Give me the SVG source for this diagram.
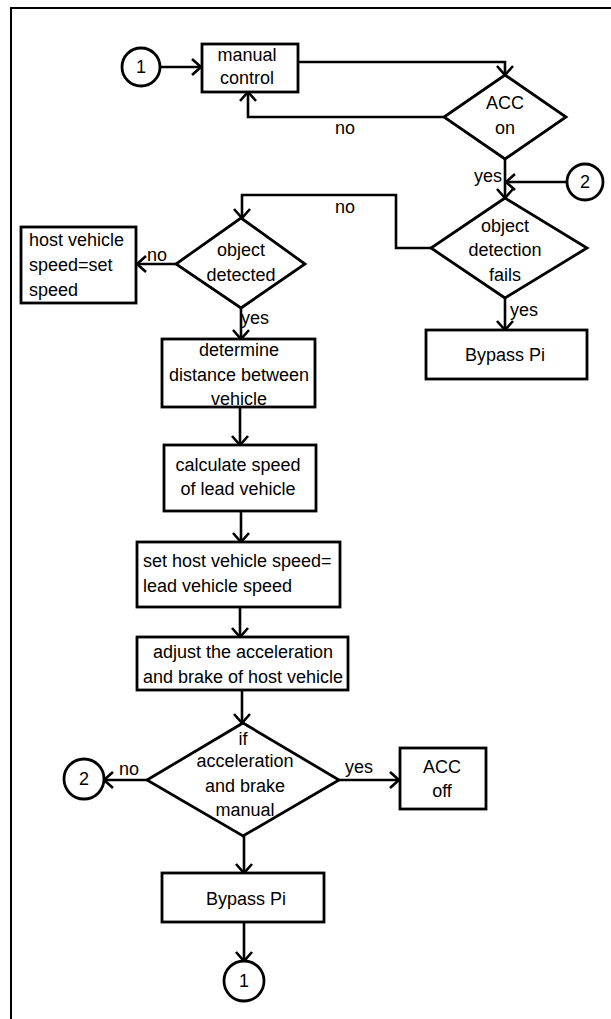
<svg xmlns="http://www.w3.org/2000/svg" width="611" height="1019" viewBox="0 0 611 1019">
<style>
.shape{fill:#fff;stroke:#000;stroke-width:2.8}
.t{font-family:"Liberation Sans",Arial,sans-serif;font-size:18px;fill:#000;text-anchor:middle}
.tl{text-anchor:start}
.c{fill:none;stroke:#000;stroke-width:2.6}
</style>
<defs>
<marker id="a" markerUnits="userSpaceOnUse" viewBox="-11 -10 13 20" refX="0" refY="0" markerWidth="13" markerHeight="20" orient="auto">
<path d="M-9,-8 L0,0 L-9,8" fill="none" stroke="#000" stroke-width="2.6"/>
</marker>
</defs>
<rect width="611" height="1019" fill="#fff"/>
<path d="M11,1019 V8 H611" fill="none" stroke="#000" stroke-width="2"/>
<g id="connectors" class="c" marker-end="url(#a)">
<path d="M160,67 H201"/>
<path d="M298,62 H505 V75"/>
<path d="M444,117 H248 V92"/>
<path d="M505,159 V198"/>
<path d="M566,182 H506"/>
<path d="M431,248 H396 V195 H242 V218"/>
<path d="M505,298 V330"/>
<path d="M176,264 H137"/>
<path d="M241,308 V339"/>
<path d="M240,407 V445"/>
<path d="M241,511 V542"/>
<path d="M240,607 V637"/>
<path d="M242,690 V723"/>
<path d="M147,780 H104"/>
<path d="M339,780 H399"/>
<path d="M244,836 V873"/>
<path d="M244,922 V961"/>
</g>
<g id="labels" class="t">
<text x="345" y="134">no</text>
<text x="488" y="182">yes</text>
<text x="345" y="213">no</text>
<text x="524" y="316">yes</text>
<text x="157" y="261">no</text>
<text x="255" y="324">yes</text>
<text x="129" y="775">no</text>
<text x="359" y="773">yes</text>
</g>
<g id="c1top"><circle class="shape" cx="141" cy="67" r="19"/><text class="t" x="141" y="73">1</text></g>
<g id="manual"><rect class="shape" x="202" y="44" width="96" height="48"/><text class="t" x="247" y="61">manual</text><text class="t" x="247" y="84">control</text></g>
<g id="accon"><polygon class="shape" points="505,75 566,117 505,159 444,117"/><text class="t" x="505" y="109">ACC</text><text class="t" x="505" y="134">on</text></g>
<g id="c2right"><circle class="shape" cx="585" cy="182" r="18"/><text class="t" x="585" y="188">2</text></g>
<g id="odf"><polygon class="shape" points="505,198 587,248 505,298 431,248"/><text class="t" x="505" y="232">object</text><text class="t" x="505" y="256">detection</text><text class="t" x="505" y="281">fails</text></g>
<g id="bypass1"><rect class="shape" x="426" y="330" width="161" height="49"/><text class="t" x="505" y="361">Bypass Pi</text></g>
<g id="od"><polygon class="shape" points="241,218 305,264 241,308 176,264"/><text class="t" x="241" y="256">object</text><text class="t" x="241" y="281">detected</text></g>
<g id="host"><rect class="shape" x="21" y="227" width="115" height="76"/><text class="t tl" x="29" y="246">host vehicle</text><text class="t tl" x="29" y="271">speed=set</text><text class="t tl" x="29" y="296">speed</text></g>
<g id="determine"><rect class="shape" x="162" y="339" width="153" height="68"/><text class="t" x="239" y="356">determine</text><text class="t" x="239" y="381">distance between</text><text class="t" x="239" y="405">vehicle</text></g>
<g id="calc"><rect class="shape" x="164" y="445" width="152" height="66"/><text class="t" x="238" y="471">calculate speed</text><text class="t" x="238" y="495">of lead vehicle</text></g>
<g id="set"><rect class="shape" x="137" y="542" width="203" height="65"/><text class="t tl" x="143" y="567">set host vehicle speed=</text><text class="t tl" x="143" y="592">lead vehicle speed</text></g>
<g id="adjust"><rect class="shape" x="137" y="637" width="211" height="53"/><text class="t" x="243" y="658">adjust the acceleration</text><text class="t" x="243" y="683">and brake of host vehicle</text></g>
<g id="ifd"><polygon class="shape" points="243,723 339,780 243,836 147,780"/><text class="t" x="243" y="745">if</text><text class="t" x="245" y="767">acceleration</text><text class="t" x="245" y="792">and brake</text><text class="t" x="245" y="816">manual</text></g>
<g id="c2left"><circle class="shape" cx="84" cy="779" r="20"/><text class="t" x="84" y="785">2</text></g>
<g id="accoff"><rect class="shape" x="400" y="748" width="86" height="61"/><text class="t" x="442" y="773">ACC</text><text class="t" x="442" y="797">off</text></g>
<g id="bypass2"><rect class="shape" x="162" y="873" width="162" height="49"/><text class="t" x="246" y="905">Bypass Pi</text></g>
<g id="c1bottom"><circle class="shape" cx="244" cy="981" r="20"/><text class="t" x="244" y="987">1</text></g>
</svg>
